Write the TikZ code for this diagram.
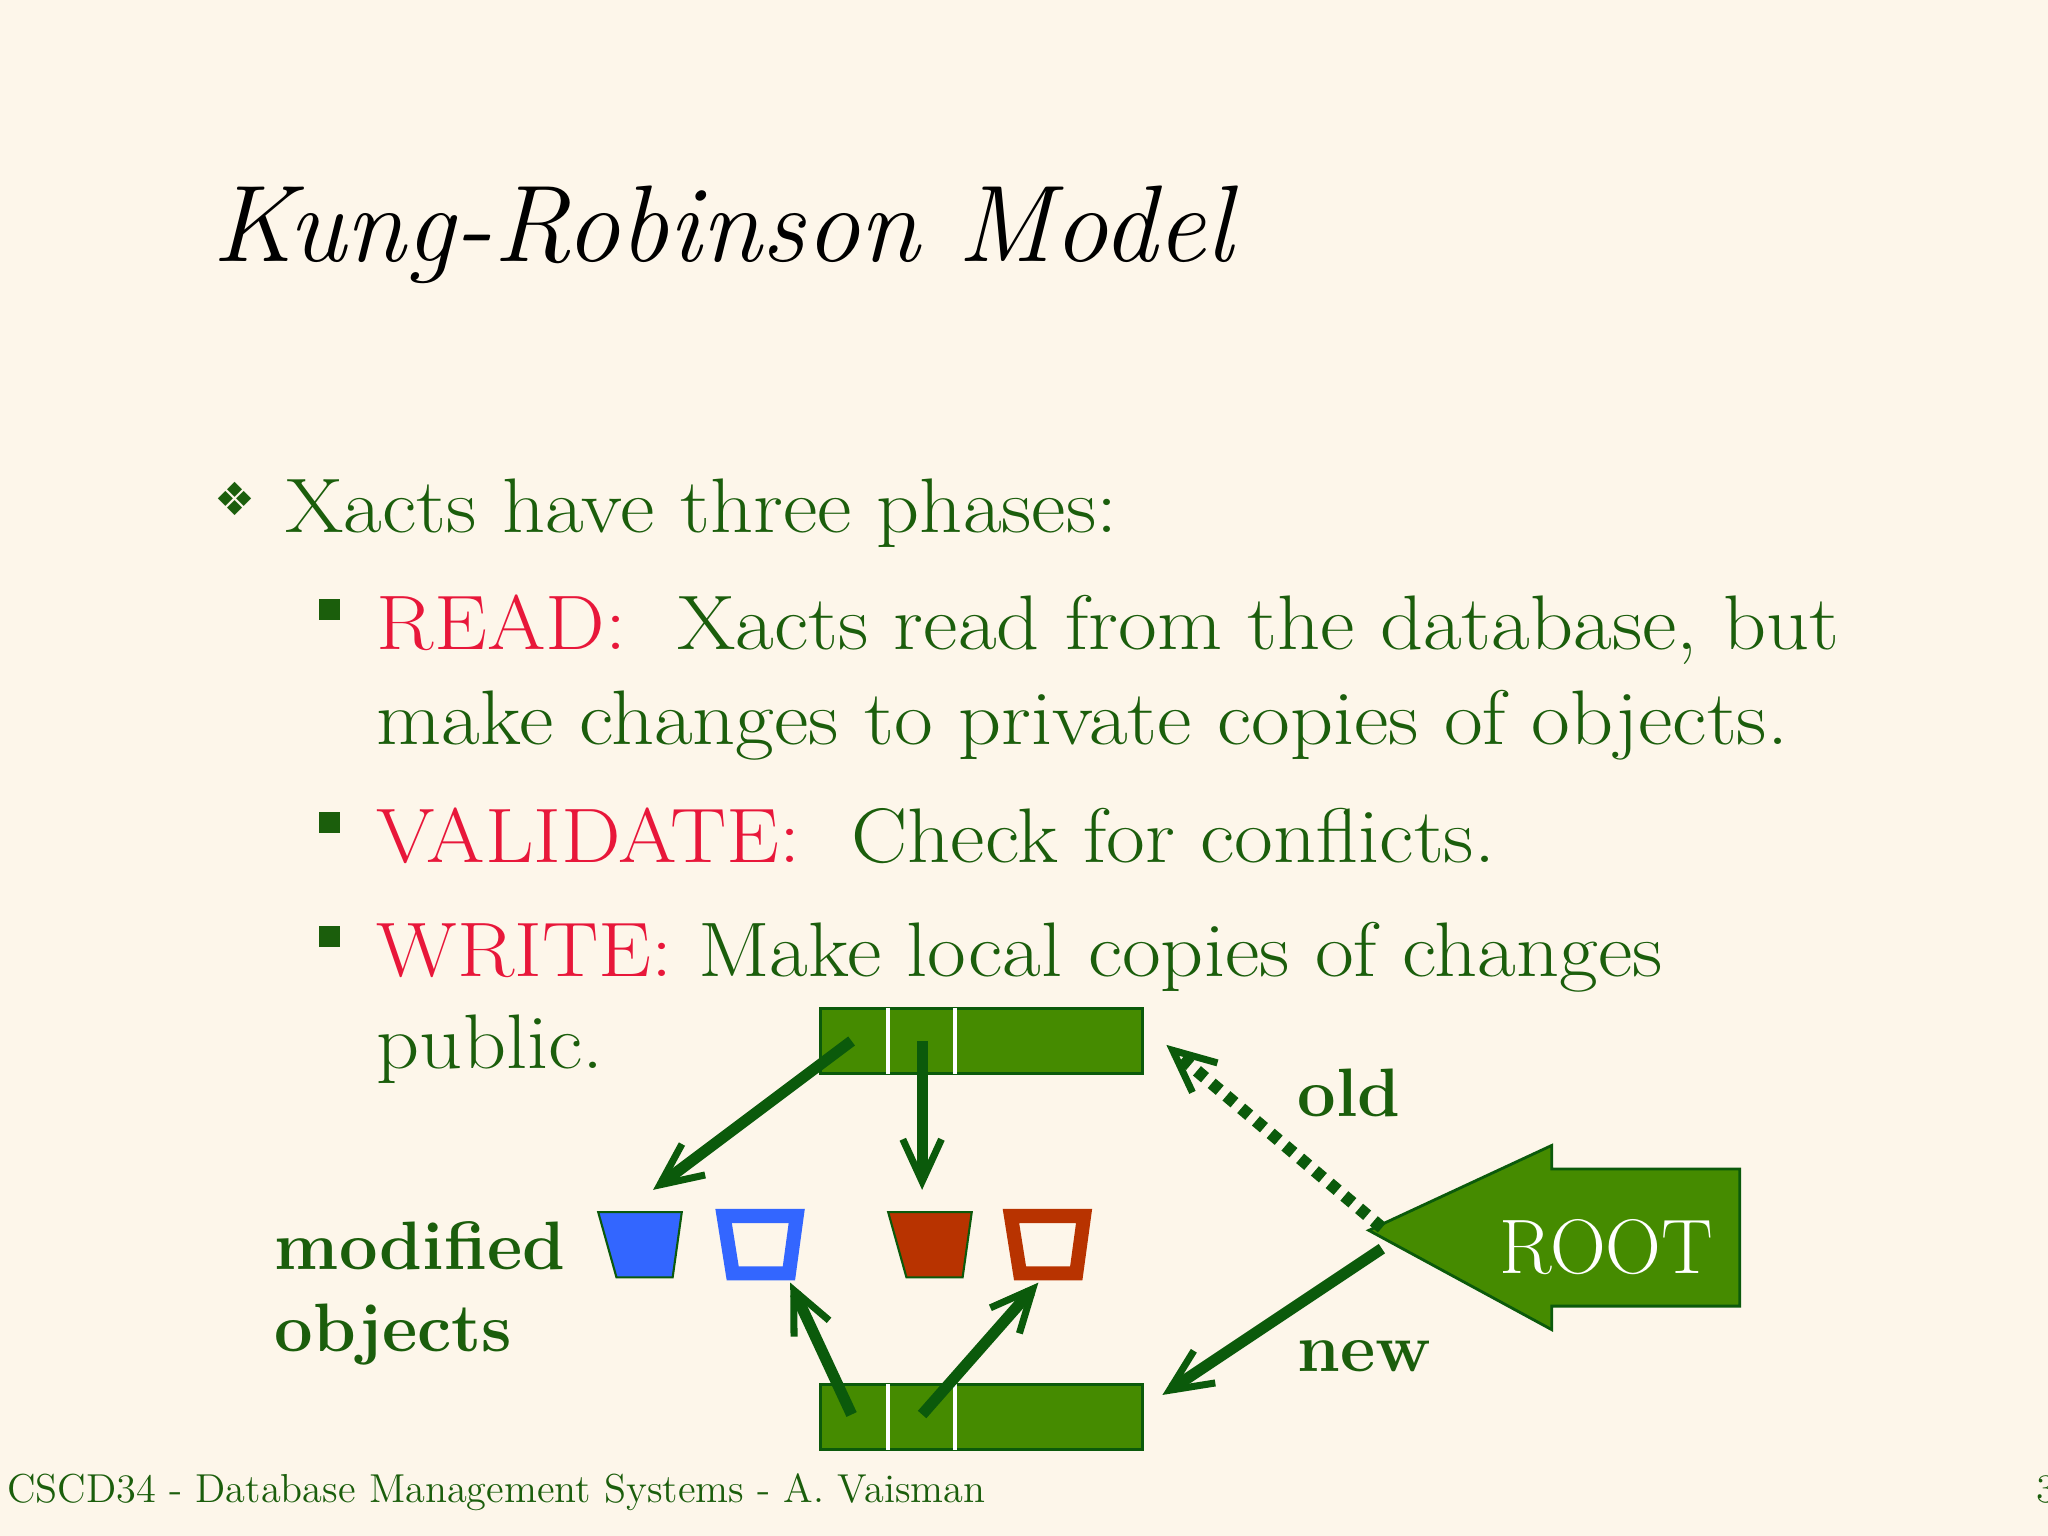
\documentclass[tikz,border=0pt]{standalone}
\usepackage{fontspec}
\usetikzlibrary{arrows.meta}
\definecolor{bg}{HTML}{FDF6EA}
\definecolor{tg}{HTML}{1B5E0C}
\definecolor{tr}{HTML}{E8173A}
\definecolor{bar}{HTML}{458B00}
\definecolor{ag}{HTML}{0B5A0B}
\definecolor{bl}{HTML}{3366FF}
\definecolor{rb}{HTML}{B83300}
\newfontfamily\dejavu{DejaVu Sans}
\begin{document}
\begin{tikzpicture}[x=0.01306cm,y=-0.01306cm,
  body/.style={anchor=base west,inner sep=0,text=tg,font=\fontsize{22}{26}\selectfont,xscale=1.09},
  lbl/.style={anchor=base west,inner sep=0,text=tg,font=\fontsize{19.5}{24}\selectfont\bfseries},
  sq/.style={fill=tg,minimum size=6pt,inner sep=0},
  bararr/.style={draw=ag,line width=3.2pt,-{Straight Barb[length=12pt,width=11pt,line width=2pt]}},
  barbox/.style={fill=bar,draw=ag,line width=0.8pt},
  trap/.style={line width=0.6pt}]
\fill[bg] (0,0) rectangle (1568,1176);
\useasboundingbox (0,0) rectangle (1568,1176);
\node[anchor=base west,inner sep=0,font=\fontsize{31}{36}\selectfont\itshape] (title) at (162,200) {Kung-Robinson Model};
\node[text=tg,inner sep=0,font=\dejavu\fontsize{13}{13}\selectfont] (b0) at (180,382) {❖};
\node[body] (l0) at (218,408) {Xacts have three phases:};
\node[sq] (s1) at (252,467) {};
\node[body] (l1) at (288,497) {\textcolor{tr}{READ:}\ \ Xacts read from the database, but};
\node[body] (l1b) at (288,570) {make changes to private copies of objects.};
\node[sq] (s2) at (252,630) {};
\node[body] (l2) at (288,660) {\textcolor{tr}{VALIDATE:}\ \ Check for conflicts.};
\node[sq] (s3) at (252,717) {};
\node[body] (l3) at (288,748) {\textcolor{tr}{WRITE:} Make local copies of changes};
\node[body] (l3b) at (288,818) {public.};
% bars
\draw[barbox] (628,772) rectangle (875,822);
\draw[white,line width=1pt] (680,772) -- (680,822) (731,772) -- (731,822);
\draw[barbox] (628,1060) rectangle (875,1110);
\draw[white,line width=1pt] (680,1060) -- (680,1110) (731,1060) -- (731,1110);
\coordinate (t1) at (652,797); \coordinate (t2) at (706,797);
\coordinate (u1) at (652,1083); \coordinate (u2) at (706,1083);
% objects
\draw[trap,fill=bl,draw=ag] (458,928) -- (522,928) -- (515,978) -- (472,978) -- cycle;
\draw[bl,line width=4pt,line join=miter] (554,931) -- (610,931) -- (604,975) -- (561,975) -- cycle;
\draw[trap,fill=rb,draw=ag] (680,928) -- (744,928) -- (737,978) -- (694,978) -- cycle;
\draw[rb,line width=4pt,line join=miter] (774,931) -- (830,931) -- (824,975) -- (781,975) -- cycle;
\coordinate (o1) at (500,911); \coordinate (o3) at (706,911);
\coordinate (o2) at (605,982); \coordinate (o4) at (795,982);
\draw[bararr] (t1) -- (o1);
\draw[bararr] (t2) -- (o3);
\draw[bararr] (u1) -- (o2);
\draw[bararr] (u2) -- (o4);
% root
\draw[fill=bar,draw=ag,line width=0.8pt] (1048,942) -- (1188,877) -- (1188,895) -- (1332,895) -- (1332,1000) -- (1188,1000) -- (1188,1018) -- cycle;
\node[text=white,inner sep=0,font=\fontsize{22}{26}\selectfont] (root) at (1230,955) {ROOT};
\coordinate (rt) at (1058,940); \coordinate (rn) at (1058,956);
\coordinate (ob) at (893,800); \coordinate (nb) at (890,1068);
\draw[draw=ag,line width=3.5pt,dash pattern=on 3pt off 2.5pt,-{Straight Barb[length=12pt,width=11pt,line width=2pt]}] (rt) -- (ob);
\draw[bararr] (rn) -- (nb);
\node[lbl] (old) at (993,855) {old};
\node[lbl] (new) at (993,1050) {new};
\node[lbl] (mod) at (210,972) {modified};
\node[lbl] (obj) at (210,1035) {objects};
\node[anchor=base west,inner sep=0,text=tg,font=\fontsize{11.5}{13}\selectfont] (foot) at (5,1150) {CSCD34 - Database Management Systems - A. Vaisman};
\node[anchor=base west,inner sep=0,text=tg,font=\fontsize{11.5}{13}\selectfont] (pg) at (1559,1150) {3};
\end{tikzpicture}
\end{document}
